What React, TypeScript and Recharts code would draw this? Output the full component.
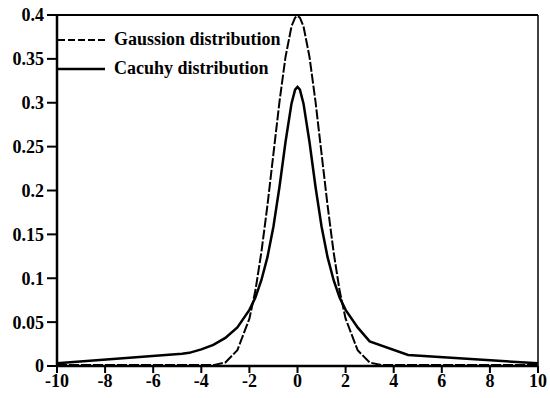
import { LineChart, Line, XAxis, YAxis, ReferenceLine } from "recharts";

const xValues = [
  -10, -9, -8, -7, -6, -4.8, -4.5, -4, -3.5, -3, -2.5, -2, -1.75, -1.5, -1.25, -1, -0.75,
  -0.5, -0.25, -0.1, 0, 0.1, 0.25, 0.5, 0.75, 1, 1.25, 1.5, 1.75, 2, 2.5, 3, 3.5, 4, 4.6,
  5, 6, 7, 8, 9, 10,
];

const gaussValues = [
  0.001, 0.001, 0.001, 0.001, 0.001, 0.001, 0.001, 0.001, 0.001, 0.004, 0.018, 0.054,
  0.086, 0.13, 0.183, 0.242, 0.301, 0.352, 0.387, 0.397, 0.399, 0.397, 0.387, 0.352,
  0.301, 0.242, 0.183, 0.13, 0.086, 0.054, 0.018, 0.004, 0.001, 0.001, 0.001, 0.001,
  0.001, 0.001, 0.001, 0.001, 0.001,
];

const cauchyValues: (number | null)[] = [
  0.003, null, null, null, null, 0.014, 0.015, 0.019, 0.024, 0.032, 0.044, 0.064,
  0.078, 0.098, 0.124, 0.159, 0.204, 0.255, 0.299, 0.315, 0.318, 0.315, 0.299, 0.255,
  0.204, 0.159, 0.124, 0.098, 0.078, 0.064, 0.044, 0.028, null, null, 0.0125, null,
  null, null, null, null, 0.003,
];

const xTicks = [-10, -8, -6, -4, -2, 0, 2, 4, 6, 8, 10];
const yTicks = [0, 0.05, 0.1, 0.15, 0.2, 0.25, 0.3, 0.35, 0.4];

const data = xValues.map((x, i) => ({
  x,
  gauss: gaussValues[i],
  cauchy: cauchyValues[i],
}));

const font = "'Liberation Serif', 'Times New Roman', serif";
const tickStyle = { fontFamily: font, fontWeight: 700, fontSize: 18, fill: "#000" };

function ChartLegend() {
  return (
    <div
      style={{
        position: "absolute",
        left: 58,
        top: 25,
        fontFamily: font,
        fontWeight: 700,
        fontSize: 18,
        lineHeight: "29px",
        color: "#000",
      }}
    >
      <div style={{ display: "flex", alignItems: "center" }}>
        <svg width={47} height={4}>
          <line x1={0} y1={2} x2={47} y2={2} stroke="#000" strokeWidth={2} strokeDasharray="7 3" />
        </svg>
        <span style={{ marginLeft: 9 }}>Gaussion distribution</span>
      </div>
      <div style={{ display: "flex", alignItems: "center" }}>
        <svg width={47} height={4}>
          <line x1={0} y1={2} x2={47} y2={2} stroke="#000" strokeWidth={2.5} />
        </svg>
        <span style={{ marginLeft: 9 }}>Cacuhy distribution</span>
      </div>
    </div>
  );
}

export default function App() {
  return (
    <div style={{ position: "absolute", left: 0, top: 0, width: 550, height: 398, background: "#fff" }}>
      <LineChart
        width={550}
        height={398}
        data={data}
        margin={{ top: 15, right: 12, bottom: 0, left: 0 }}
      >
        <XAxis
          dataKey="x"
          type="number"
          domain={[-10, 10]}
          ticks={xTicks}
          tick={tickStyle}
          tickSize={7}
          tickMargin={1}
          height={32}
          stroke="#000"
          strokeWidth={2.5}
          tickLine={{ stroke: "#000", strokeWidth: 2 }}
        />
        <YAxis
          type="number"
          domain={[0, 0.4]}
          ticks={yTicks}
          tick={tickStyle}
          tickSize={10}
          tickMargin={3}
          width={57}
          stroke="#000"
          strokeWidth={2.5}
          tickLine={{ stroke: "#000", strokeWidth: 2 }}
        />
        <ReferenceLine y={0.4} stroke="#000" strokeWidth={2} />
        <ReferenceLine x={10} stroke="#000" strokeWidth={1.5} />
        <Line
          type="linear"
          dataKey="gauss"
          stroke="#000"
          strokeWidth={2}
          strokeDasharray="10 2"
          dot={false}
          isAnimationActive={false}
        />
        <Line
          type="linear"
          dataKey="cauchy"
          stroke="#000"
          strokeWidth={2.5}
          dot={false}
          connectNulls
          isAnimationActive={false}
        />
      </LineChart>
      <ChartLegend />
    </div>
  );
}
